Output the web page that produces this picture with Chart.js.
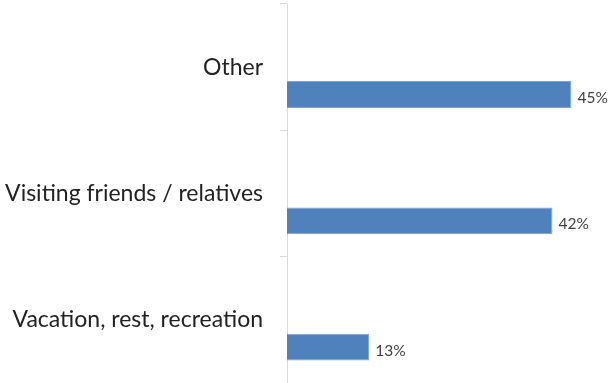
<!DOCTYPE html>
<html>
<head>
<meta charset="utf-8">
<script src="https://cdn.jsdelivr.net/npm/chart.js@4"></script>
<style>
  html, body { margin: 0; padding: 0; background: #fff; }
  #wrap { width: 609px; height: 383px; }
</style>
</head>
<body>
<div id="wrap"><canvas id="mainChart"></canvas></div>
<script>
    const categories = ['Other', 'Visiting friends / relatives', 'Vacation, rest, recreation'];
    const shares = [45, 42, 13];
    const emptySeries = [null, null, null];

    // draws the "45%" style labels right of each bar
    const valueLabels = {
        id: 'valueLabels',
        afterDatasetsDraw(chart) {
            const ctx = chart.ctx;
            const meta = chart.getDatasetMeta(1);
            ctx.save();
            ctx.font = '15.5px Lato';
            ctx.fillStyle = '#404040';
            ctx.textBaseline = 'alphabetic';
            ctx.textAlign = 'left';
            meta.data.forEach((bar, i) => {
                ctx.fillText(shares[i] + '%', bar.x + 6, bar.y + 8.5);
            });
            ctx.restore();
        }
    };

    const ctx = document.getElementById('mainChart').getContext('2d');
    new Chart(ctx, {
        type: 'bar',
        data: {
            labels: categories,
            datasets: [
                { label: '', data: emptySeries, backgroundColor: '#4F81BD' },
                {
                    label: 'Share',
                    data: shares,
                    backgroundColor: '#4F81BD',
                    borderColor: '#7fa2d0',
                    borderWidth: 1
                }
            ]
        },
        options: {
            indexAxis: 'y',
            responsive: true,
            maintainAspectRatio: false,
            animation: false,
            categoryPercentage: 0.866,
            barPercentage: 0.49,
            layout: { padding: { top: 4, right: 6, bottom: 0, left: 0 } },
            plugins: { legend: { display: false }, tooltip: { enabled: false } },
            scales: {
                x: { display: false, min: 0, max: 50 },
                y: {
                    afterFit: (scale) => {
                        scale.width = 287;
                        scale.paddingTop = 0;
                        scale.paddingBottom = 0;
                    },
                    grid: { offset: true, drawOnChartArea: false, tickLength: 7, color: '#d9d9d9' },
                    border: { color: '#d9d9d9' },
                    ticks: { padding: 17, color: '#222', font: { family: 'Lato', size: 23 } }
                }
            }
        },
        plugins: [valueLabels]
    });
</script>
</body>
</html>
